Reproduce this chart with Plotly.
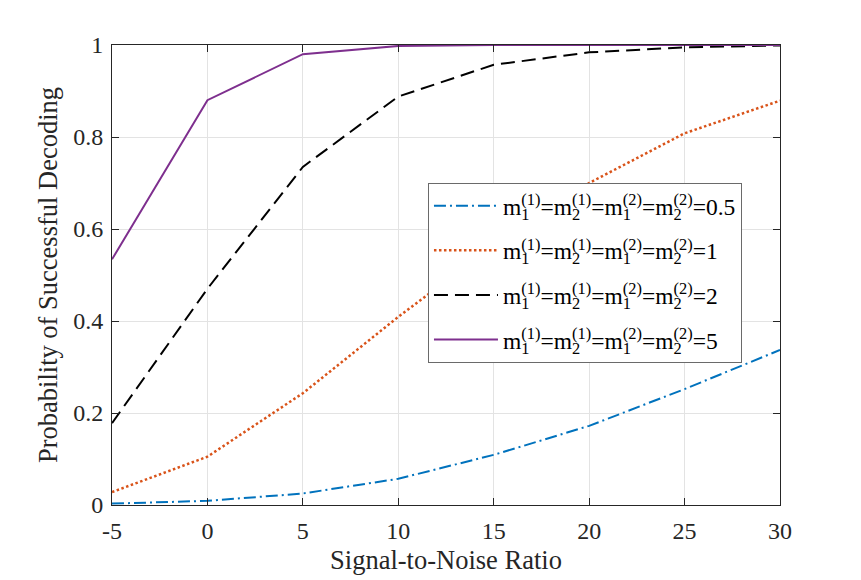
import plotly.graph_objects as go

snr = [-5, 0, 5, 10, 15, 20, 25, 30]
p_m05 = [0.003, 0.009, 0.025, 0.057, 0.109, 0.172, 0.252, 0.337]
p_m1 = [0.028, 0.105, 0.243, 0.409, 0.565, 0.700, 0.808, 0.879]
p_m2 = [0.178, 0.470, 0.735, 0.888, 0.957, 0.984, 0.995, 0.999]
p_m5 = [0.534, 0.880, 0.980, 0.998, 1.000, 1.000, 1.000, 1.000]
m_values = ["0.5", "1", "2", "5"]
x_ticks = [-5, 0, 5, 10, 15, 20, 25, 30]
y_ticks = [0, 0.2, 0.4, 0.6, 0.8, 1]
y_ticklabels = ["0", "0.2", "0.4", "0.6", "0.8", "1"]

FONT = "Liberation Serif, Times New Roman, serif"
LEG_SIZE = 23.5
SUB_W = LEG_SIZE * 0.7 * 0.5


def term(sub, sup):
    return ('m<sub><span style="letter-spacing:-%.1fpx">%s</span></sub><sup>(%s)</sup>'
            % (SUB_W, sub, sup))


def label(v):
    return "=".join([term(1, 1), term(2, 1), term(1, 2), term(2, 2)]) + "=" + v


series = [p_m05, p_m1, p_m2, p_m5]
colors = ["#0072BD", "#D95319", "#000000", "#7E2F8E"]
dashes = ["12px,4px,2px,4px", "2.5px,2.5px", "14px,7px", "solid"]
widths = [2, 2.5, 2, 2]

fig = go.Figure()
for i, (ys, c, d, w, mv) in enumerate(zip(series, colors, dashes, widths, m_values)):
    fig.add_trace(go.Scatter(x=snr, y=ys, mode="lines", name=label(mv),
                             legendgroup="g%d" % i,
                             line=dict(color=c, dash=d, width=w)))

axis_common = dict(showline=True, linecolor="#262626", linewidth=1, mirror="allticks",
                   ticks="inside", ticklen=7, tickcolor="#262626", automargin=False,
                   showgrid=True, gridcolor="#e3e3e3", gridwidth=1, zeroline=False,
                   tickfont=dict(family=FONT, size=24, color="#262626"))

fig.update_layout(
    width=861, height=580,
    margin=dict(l=112, r=81, t=45, b=75),
    paper_bgcolor="white", plot_bgcolor="white",
    font=dict(family=FONT, color="#262626"),
    showlegend=True,
    legend=dict(x=0.473, y=0.70, xanchor="left", yanchor="top",
                bgcolor="white", bordercolor="#6a6a6a", borderwidth=1,
                font=dict(family=FONT, size=LEG_SIZE, color="#000000"),
                itemwidth=64, tracegroupgap=11),
    xaxis=dict(range=[-5, 30], tickvals=x_ticks, ticktext=[str(v) for v in x_ticks],
               title=dict(text="Signal-to-Noise Ratio", font=dict(family=FONT, size=26.5, color="#262626"),
                          standoff=7),
               ticklabelstandoff=4,
               **axis_common),
    yaxis=dict(range=[0, 1], tickvals=y_ticks, ticktext=y_ticklabels,
               title=dict(text="Probability of Successful Decoding",
                          font=dict(family=FONT, size=26.5, color="#262626"), standoff=7),
               ticklabelstandoff=3,
               **axis_common),
)

fig.write_html("out.html")
